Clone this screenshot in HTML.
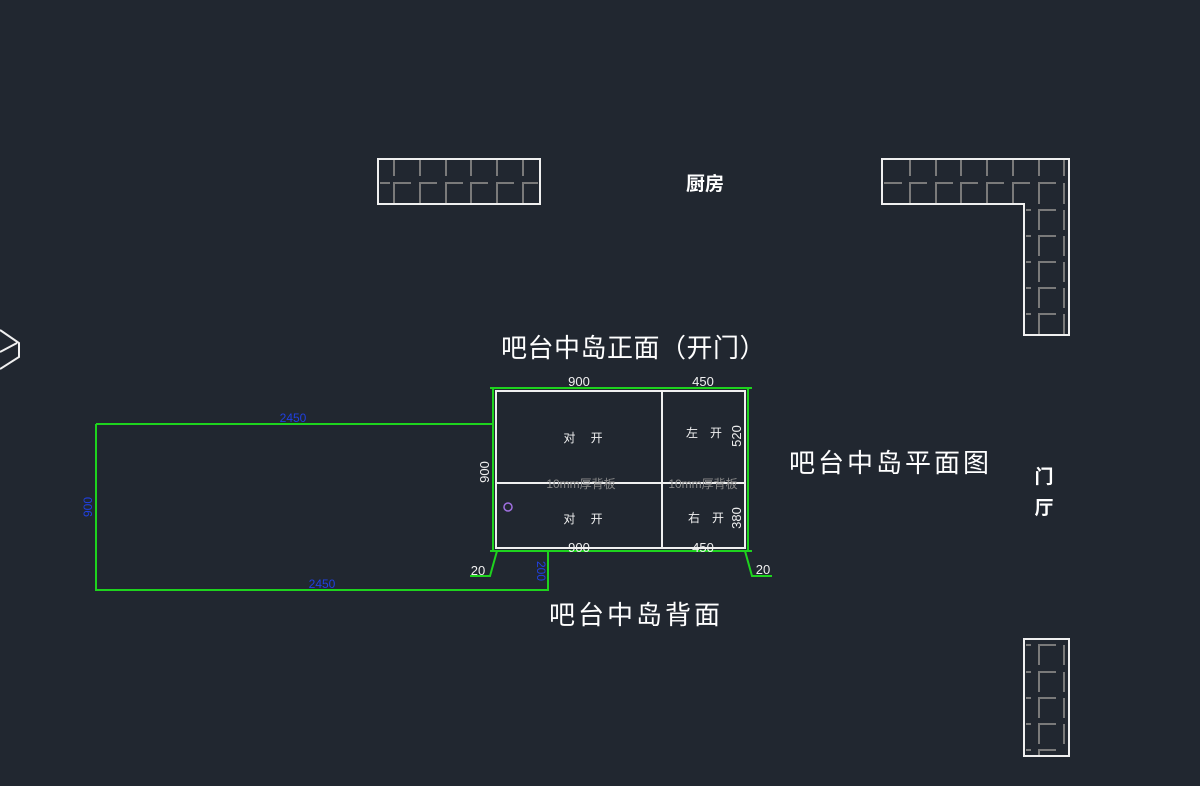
<!DOCTYPE html>
<html><head><meta charset="utf-8"><style>
html,body{margin:0;padding:0;background:#212730;}
svg{display:block}
text{font-family:"Liberation Sans","Noto Sans CJK SC",sans-serif;}
</style></head><body>
<svg width="1200" height="786" viewBox="0 0 1200 786" xmlns="http://www.w3.org/2000/svg">
<rect width="1200" height="786" fill="#212730"/>
<g stroke="#7a7a7a" stroke-width="2" fill="none">
<path d="M394 160V176M420 160V176M446 160V176M471 160V176M497 160V176M523 160V176
M380 183H390M394 204V183H411M420 204V183H437M446 204V183H463M471 204V183H488M497 204V183H514M523 204V183H538"/>
<path d="M910 160V176M936 160V176M961 160V176M987 160V176M1013 160V176M1039 160V176M1064 160V176
M884 183H902M910 204V183H927M936 204V183H953M961 204V183H978M987 204V183H1004M1013 204V183H1030M1039 204V183H1056M1064 183V204"/>
<path d="M1026 210H1031M1039 230V210H1056M1064 210V230
M1026 236H1031M1039 256V236H1056M1064 236V256
M1026 262H1031M1039 282V262H1056M1064 262V282
M1026 288H1031M1039 308V288H1056M1064 288V308
M1026 314H1031M1039 334V314H1056M1064 314V334"/>
<path d="M1026 645H1031M1039 665V645H1056M1064 645V665
M1026 672H1031M1039 692V672H1056M1064 672V692
M1026 698H1031M1039 718V698H1056M1064 698V718
M1026 724H1031M1039 744V724H1056M1064 724V744
M1026 750H1031M1039 756V750H1056"/>
</g>
<g stroke="#f0f0f0" stroke-width="2" fill="none">
<rect x="378" y="159" width="162" height="45"/>
<path d="M882 159H1069V335H1024V204H882Z"/>
<rect x="1024" y="639" width="45" height="117"/>
<path d="M0 330L19 343V357L0 369M0 352L17 343"/>
</g>
<g stroke="#1ed31e" stroke-width="2" fill="none">
<rect x="493" y="388" width="255" height="163"/>
<path d="M96 424H493M96 424V590H548V551"/>
<path d="M490 388H752M490 551H752"/>
<path d="M497 551L490 576H470M745 551L752 576H772"/>
</g>
<g stroke="#f0f0f0" stroke-width="2" fill="none">
<rect x="496" y="391" width="249" height="157"/>
<path d="M662 391V548M496 483H745"/>
</g>
<circle cx="508" cy="507" r="4" fill="none" stroke="#a070e0" stroke-width="1.5"/>
<g fill="#f0f0f0" font-size="13">
<text x="579" y="386" text-anchor="middle">900</text>
<text x="703" y="386" text-anchor="middle">450</text>
<text x="579" y="552" text-anchor="middle">900</text>
<text x="703" y="552" text-anchor="middle">450</text>
<text x="478" y="575" text-anchor="middle">20</text>
<text x="763" y="574" text-anchor="middle">20</text>
<text transform="translate(489,472) rotate(-90)" text-anchor="middle">900</text>
<text transform="translate(741,436) rotate(-90)" text-anchor="middle">520</text>
<text transform="translate(741,518) rotate(-90)" text-anchor="middle">380</text>
</g>
<g fill="#2040e0" font-size="12">
<text x="293" y="422" text-anchor="middle">2450</text>
<text x="322" y="588" text-anchor="middle">2450</text>
<text transform="translate(92,507) rotate(-90)" text-anchor="middle">900</text>
<text transform="translate(537,571) rotate(90)" text-anchor="middle">200</text>
</g>
<g fill="#f0f0f0" font-size="12">
<text x="583" y="442" text-anchor="middle">对　 开</text>
<text x="583" y="523" text-anchor="middle">对　 开</text>
<text x="704" y="437" text-anchor="middle">左　开</text>
<text x="706" y="522" text-anchor="middle">右　开</text>
</g>
<g fill="#8a8a8a" font-size="12">
<text x="581" y="488" text-anchor="middle">10mm厚背板</text>
<text x="703" y="488" text-anchor="middle">10mm厚背板</text>
</g>
<g fill="#ffffff">
<text x="705" y="190" font-size="19" font-weight="bold" text-anchor="middle">厨房</text>
<text x="1044" y="483" font-size="19" font-weight="bold" text-anchor="middle">门</text>
<text x="1044" y="514" font-size="19" font-weight="bold" text-anchor="middle">厅</text>
<text x="501" y="357" font-size="26" letter-spacing="0.5">吧台中岛正面（开门）</text>
<text x="789" y="472" font-size="26" letter-spacing="3">吧台中岛平面图</text>
<text x="549" y="624" font-size="26" letter-spacing="3">吧台中岛背面</text>
</g>
</svg>
</body></html>
